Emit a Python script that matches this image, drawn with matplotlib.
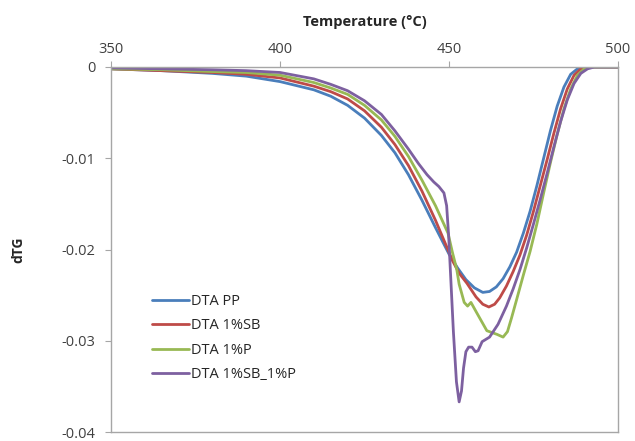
import matplotlib
matplotlib.use("Agg")
import matplotlib.pyplot as plt

# Temperature (°C) and dTG values
t_pp = [350, 365, 380, 390, 400, 410, 415, 420, 425, 430, 434, 438, 442, 446, 450, 452.5, 455, 457.5, 460, 462, 464, 466, 468, 470, 472, 474, 476, 478, 480, 482, 484, 486, 488, 490, 500]
y_pp = [-0.0002, -0.0004, -0.0007, -0.0010, -0.0016, -0.0025, -0.0032, -0.0042, -0.0056, -0.0075, -0.0094, -0.0118, -0.0146, -0.0176, -0.0205, -0.0220, -0.0233, -0.0242, -0.0247, -0.0246, -0.0241, -0.0232, -0.0219, -0.0203, -0.0182, -0.0158, -0.0130, -0.0100, -0.0070, -0.0043, -0.0022, -0.0008, -0.0002, 0.0, 0.0]

t_sb = [350, 365, 380, 390, 400, 410, 415, 420, 425, 430, 434, 438, 442, 446, 450, 451, 453, 455.3, 458, 460, 461.8, 463.5, 465, 467, 469, 471, 473, 475, 477, 479, 481, 483, 485, 487, 489, 491, 500]
y_sb = [-0.0002, -0.0004, -0.0006, -0.0008, -0.0012, -0.0021, -0.0027, -0.0035, -0.0048, -0.0066, -0.0085, -0.0108, -0.0136, -0.0168, -0.0203, -0.0212, -0.0226, -0.0237, -0.0252, -0.0260, -0.0263, -0.0260, -0.0253, -0.0240, -0.0224, -0.0206, -0.0184, -0.0158, -0.0130, -0.0102, -0.0073, -0.0046, -0.0024, -0.0009, -0.0002, 0.0, 0.0]

t_p = [350, 365, 380, 390, 400, 410, 415, 420, 425, 430, 434, 438, 442, 446, 449.7, 451, 452.3, 453, 454.5, 455.5, 456.5, 458, 461.2, 464.2, 466, 467.3, 468.5, 470, 472, 474, 476, 478, 480, 482, 484, 486, 488, 490, 492, 500]
y_p = [-0.0002, -0.0003, -0.0005, -0.0006, -0.0009, -0.0017, -0.0023, -0.0030, -0.0042, -0.0058, -0.0076, -0.0098, -0.0124, -0.0152, -0.0182, -0.0203, -0.0222, -0.0238, -0.0258, -0.0262, -0.0258, -0.0268, -0.0289, -0.0293, -0.0296, -0.0290, -0.0275, -0.0255, -0.0228, -0.0202, -0.0172, -0.0138, -0.0105, -0.0074, -0.0046, -0.0024, -0.0009, -0.0002, 0.0, 0.0]

t_sbp = [350, 365, 380, 390, 400, 410, 415, 420, 425, 430, 434, 438, 441, 443.5, 445.5, 447, 448.5, 449.3, 449.9, 450.5, 451.3, 452.2, 453, 453.7, 454.3, 455, 455.8, 456.8, 457.8, 458.6, 459.8, 462, 464.5, 467, 469, 471, 473, 475, 477, 479, 481, 483, 485, 487, 489, 491, 493, 500]
y_sbp = [-0.0001, -0.0002, -0.0003, -0.0004, -0.0006, -0.0013, -0.0019, -0.0026, -0.0037, -0.0052, -0.0070, -0.0090, -0.0106, -0.0118, -0.0126, -0.0131, -0.0138, -0.0152, -0.0185, -0.0230, -0.0290, -0.0345, -0.0367, -0.0355, -0.0330, -0.0312, -0.0307, -0.0307, -0.0312, -0.0311, -0.0301, -0.0296, -0.0282, -0.0262, -0.0243, -0.0222, -0.0198, -0.0172, -0.0145, -0.0117, -0.0088, -0.0060, -0.0036, -0.0018, -0.0007, -0.0002, 0.0, 0.0]

labels = ["DTA PP", "DTA 1%SB", "DTA 1%P", "DTA 1%SB_1%P"]
colors = ["#4A7EBB", "#BE4B48", "#98B954", "#7D60A0"]
x_ticks = [350, 400, 450, 500]
y_ticks = [0, -0.01, -0.02, -0.03, -0.04]
y_ticklabels = ["0", "-0.01", "-0.02", "-0.03", "-0.04"]

plt.rcParams['font.family'] = ['Open Sans', 'DejaVu Sans']

fig = plt.figure(figsize=(6.35, 4.41), dpi=100)
ax = fig.add_axes([111/635, 1 - 432/441, (618 - 111)/635, (432 - 67)/441])

series = [(t_pp, y_pp), (t_sb, y_sb), (t_p, y_p), (t_sbp, y_sbp)]
for (t, y), lab, c in zip(series, labels, colors):
    ax.plot(t, y, color=c, lw=2.0, label=lab, solid_joinstyle='round', solid_capstyle='round')

ax.set_xlim(350, 500)
ax.set_ylim(-0.04, 0)
ax.xaxis.tick_top()
ax.xaxis.set_label_position('top')
ax.set_xticks(x_ticks)
ax.set_yticks(y_ticks)
ax.set_yticklabels(y_ticklabels)
ax.tick_params(axis='both', labelsize=10.5, colors='#404040', length=4, width=0.8, color='#A6A6A6')
ax.tick_params(axis='x', pad=3)
ax.tick_params(axis='y', pad=7)
for s in ax.spines.values():
    s.set_color('#A6A6A6')
    s.set_linewidth(1.0)

ax.set_xlabel("Temperature (°C)", fontsize=10.5, fontweight='bold', color='#262626', labelpad=12)
ax.set_ylabel("dTG", fontsize=10, fontweight='bold', color='#262626', labelpad=26)

leg = ax.legend(loc='lower left', bbox_to_anchor=(0.07, 0.12), frameon=False, fontsize=10.5,
                handlelength=2.5, handletextpad=0.15, labelspacing=0.65, borderaxespad=0)
for txt in leg.get_texts():
    txt.set_color('#262626')

fig.savefig("out.png", dpi=100)
